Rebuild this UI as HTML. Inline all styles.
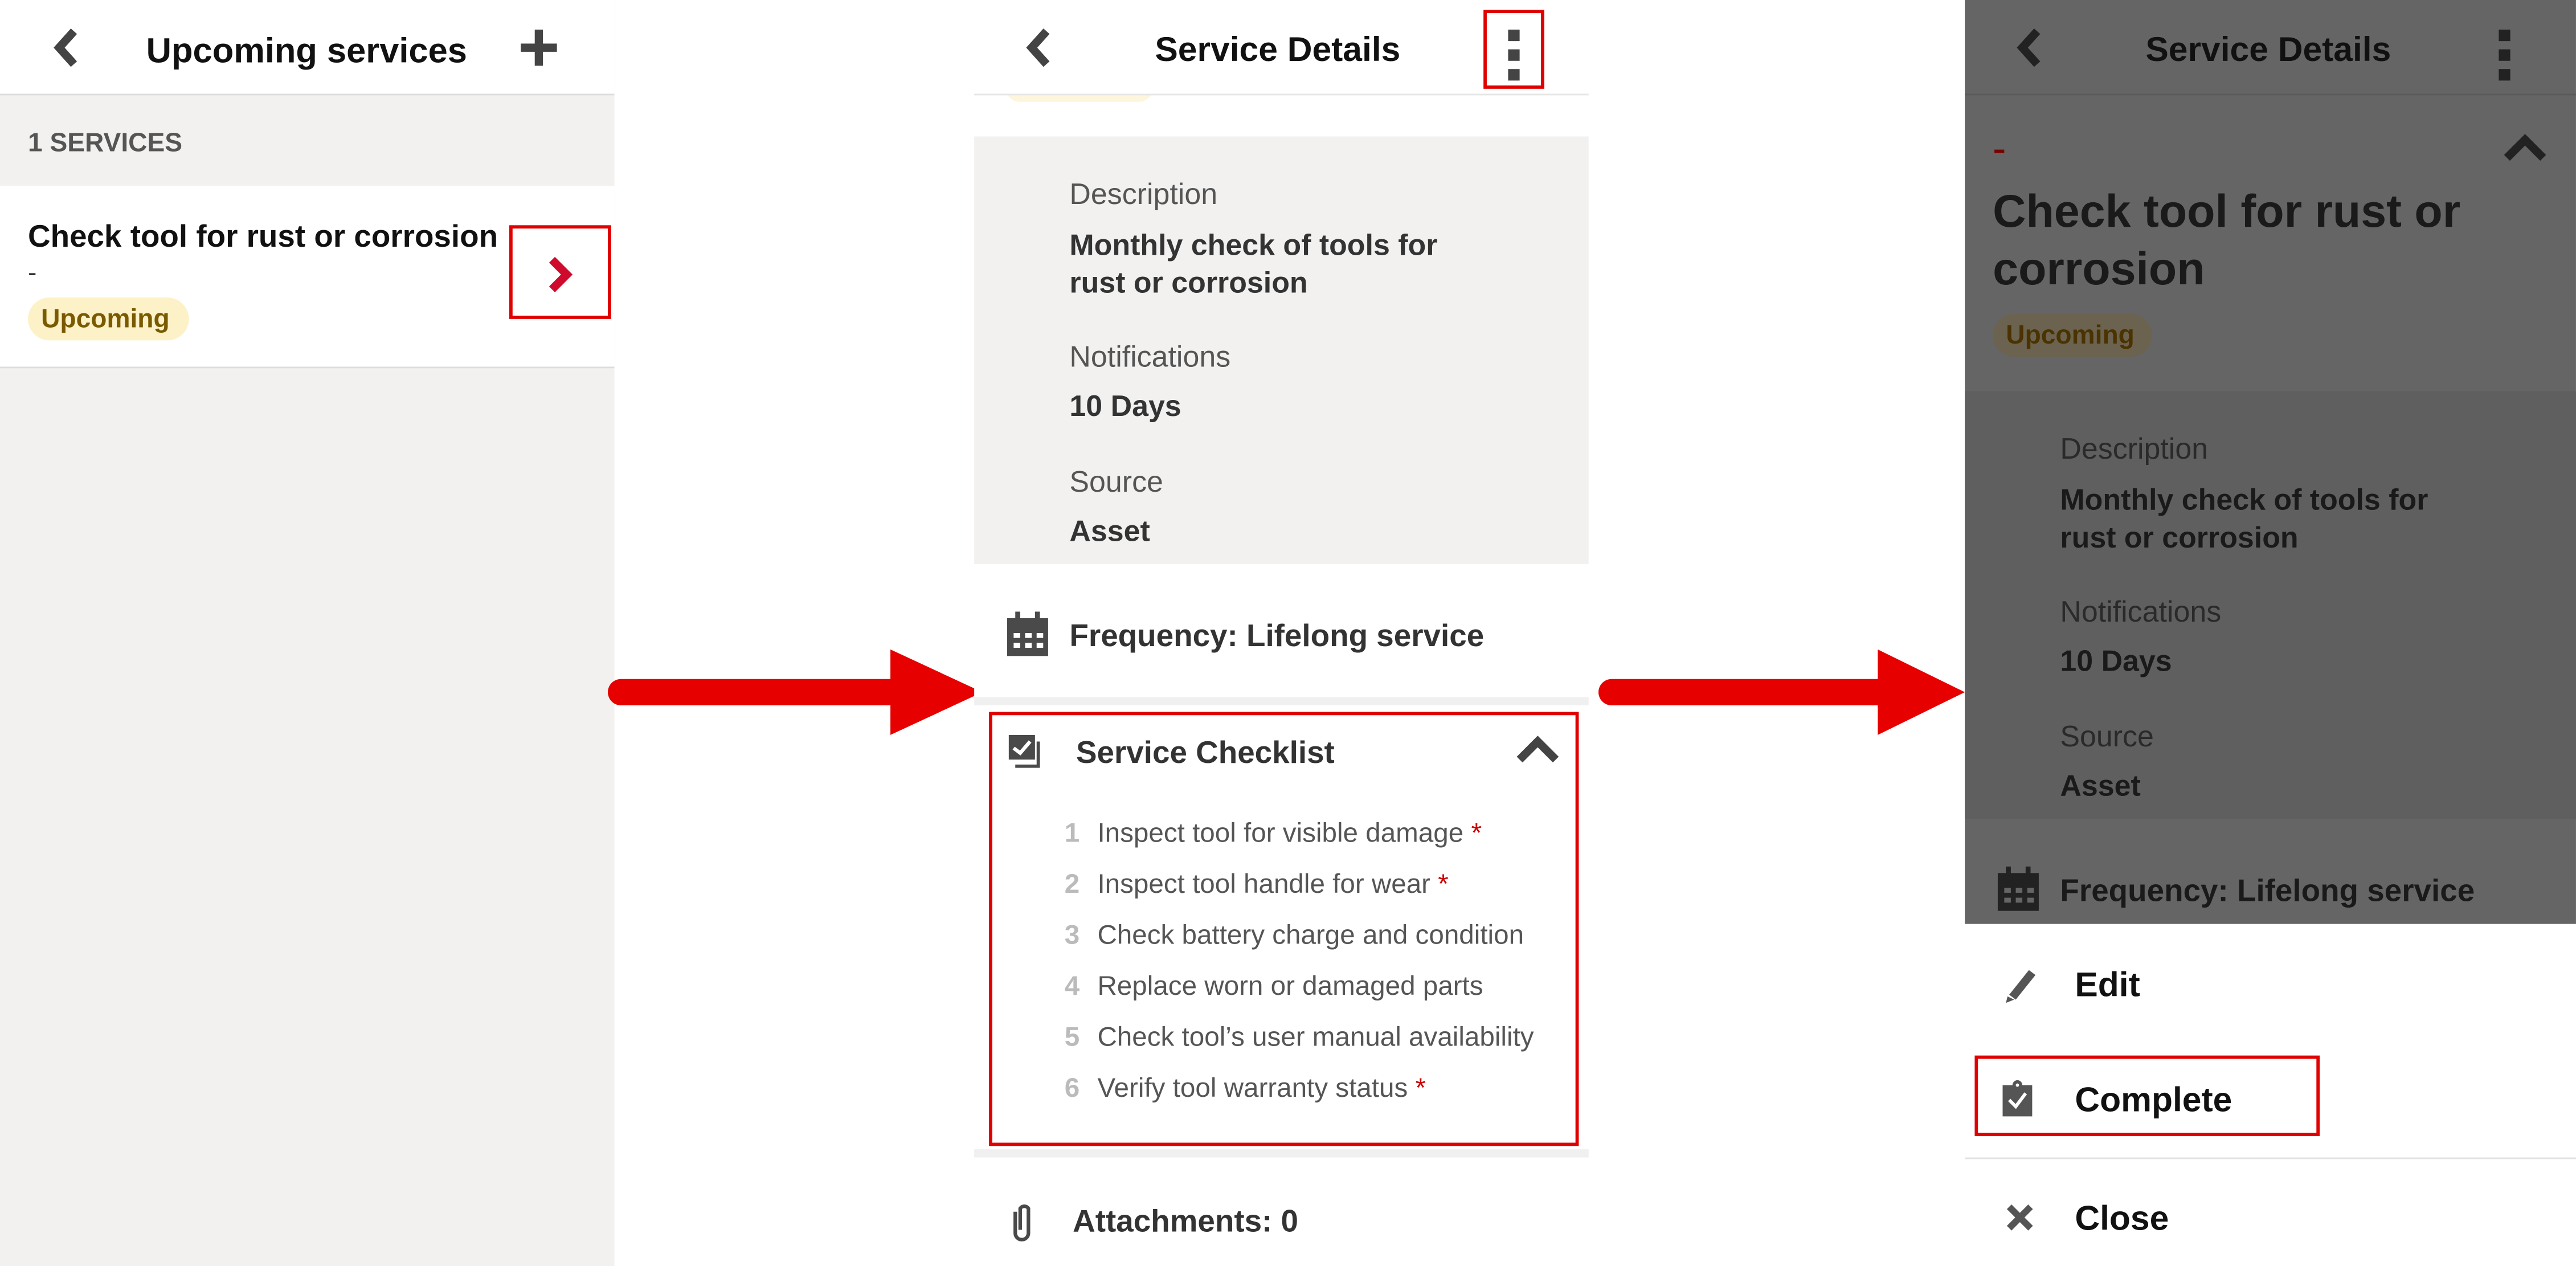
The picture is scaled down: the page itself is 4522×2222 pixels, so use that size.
<!DOCTYPE html>
<html><head><meta charset="utf-8"><style>
html,body{margin:0;padding:0;width:4522px;height:2222px;overflow:hidden;background:#fff}
#s{position:absolute;left:0;top:0;width:1568px;height:770px;transform:scale(2.8839,2.8857);transform-origin:0 0;font-family:"Liberation Sans",Arial,sans-serif}
.a{position:absolute}
.t{position:absolute;white-space:nowrap}
.b{font-weight:bold}
.rb{position:absolute;border:2px solid #e00000;box-sizing:border-box}
</style></head><body><div id="s">
<!-- LEFT PANEL -->
<div class="a" style="left:0;top:0;width:374px;height:770px;background:#f2f1f0"></div>
<div class="a" style="left:0;top:0;width:374px;height:57px;background:#fff;border-bottom:1px solid #ddd"></div>
<svg class="a" style="left:28px;top:16px" width="24" height="26"><path d="M17 3 L8 13 L17 23" stroke="#444" stroke-width="5" fill="none"/></svg>
<div class="t b" style="left:89px;top:19px;font-size:21.3px;color:#111">Upcoming services</div>
<svg class="a" style="left:316px;top:17px" width="24" height="24"><rect x="9.5" y="1" width="5" height="22" fill="#444"/><rect x="1" y="9.5" width="22" height="5" fill="#444"/></svg>
<div class="t b" style="left:17px;top:79px;font-size:16px;color:#555">1 SERVICES</div>
<div class="a" style="left:0;top:113px;width:374px;height:110px;background:#fff;border-bottom:1px solid #ddd"></div>
<div class="t b" style="left:17px;top:134px;font-size:19px;color:#111">Check tool for rust or corrosion</div>
<div class="t" style="left:17px;top:158px;font-size:16px;color:#333">-</div>
<div class="a" style="left:17px;top:181px;width:98px;height:26px;border-radius:13px;background:#fdf1c7"></div>
<div class="t b" style="left:25px;top:186px;font-size:16px;color:#7a5a00">Upcoming</div>
<div class="rb" style="left:310px;top:137px;width:62px;height:57px"></div>
<svg class="a" style="left:332px;top:155px" width="20" height="24"><path d="M4 3 L13 12 L4 21" stroke="#cf0a2c" stroke-width="5" fill="none"/></svg>

<!-- ARROWS -->
<svg class="a" style="left:0;top:0" width="1568" height="770">
<path d="M378 413 L542 413 L542 395 L598 421 L542 447 L542 429 L378 429 A8 8 0 0 1 378 413Z" fill="#e60000"/>
<path d="M981 413 L1143 413 L1143 395 L1196 421 L1143 447 L1143 429 L981 429 A8 8 0 0 1 981 413Z" fill="#e60000"/>
</svg>

<!-- MIDDLE PANEL -->
<div class="a" style="left:593px;top:0;width:374px;height:770px;background:#fff"></div>
<div class="a" style="left:612px;top:44px;width:90px;height:18px;border-radius:9px;background:#fdf5dc"></div>
<div class="a" style="left:593px;top:0;width:374px;height:57px;background:#fff;border-bottom:1px solid #e6e6e6"></div>
<svg class="a" style="left:620px;top:16px" width="24" height="26"><path d="M17 3 L8 13 L17 23" stroke="#444" stroke-width="5" fill="none"/></svg>
<div class="t b" style="left:703px;top:19px;font-size:21px;color:#111">Service Details</div>
<div class="a" style="left:918px;top:18px;width:7px;height:7px;background:#444"></div>
<div class="a" style="left:918px;top:30px;width:7px;height:7px;background:#444"></div>
<div class="a" style="left:918px;top:42px;width:7px;height:7px;background:#444"></div>
<div class="rb" style="left:903px;top:6px;width:37px;height:48px"></div>
<div class="a" style="left:593px;top:83px;width:374px;height:260px;background:#f2f1f0"></div>
<div class="t" style="left:651px;top:108px;font-size:18px;color:#555">Description</div>
<div class="t b" style="left:651px;top:138px;font-size:18px;color:#333;line-height:23px">Monthly check of tools for<br>rust or corrosion</div>
<div class="t" style="left:651px;top:207px;font-size:18px;color:#555">Notifications</div>
<div class="t b" style="left:651px;top:237px;font-size:18px;color:#333">10 Days</div>
<div class="t" style="left:651px;top:283px;font-size:18px;color:#555">Source</div>
<div class="t b" style="left:651px;top:313px;font-size:18px;color:#333">Asset</div>
<svg class="a" style="left:613px;top:372px" width="26" height="28"><rect x="0" y="4" width="25" height="23" fill="#4a4a4a"/><rect x="5" y="0" width="3" height="5" fill="#4a4a4a"/><rect x="17" y="0" width="3" height="5" fill="#4a4a4a"/><g fill="#fff"><rect x="4" y="13" width="4" height="3"/><rect x="11" y="13" width="4" height="3"/><rect x="18" y="13" width="4" height="3"/><rect x="4" y="19" width="4" height="3"/><rect x="11" y="19" width="4" height="3"/><rect x="18" y="19" width="4" height="3"/></g></svg>
<div class="t b" style="left:651px;top:377px;font-size:19px;color:#333">Frequency: Lifelong service</div>
<div class="a" style="left:593px;top:424px;width:374px;height:5px;background:#f0f0f0"></div>
<div class="rb" style="left:602px;top:433px;width:359px;height:264px"></div>
<svg class="a" style="left:614px;top:447px" width="22" height="22"><rect x="0" y="0" width="16" height="15" fill="#4a4a4a"/><path d="M3 8 L7 11 L13 4" stroke="#fff" stroke-width="2.2" fill="none"/><path d="M18 4 V19 H4" stroke="#4a4a4a" stroke-width="2" fill="none"/></svg>
<div class="t b" style="left:655px;top:448px;font-size:19px;color:#333">Service Checklist</div>
<svg class="a" style="left:922px;top:446px" width="28" height="20"><path d="M3 16 L14 5 L25 16" stroke="#444" stroke-width="5" fill="none"/></svg>
<div class="a" style="left:648px;top:492px;font-size:16.5px;line-height:31px;color:#555">
<div><span style="color:#bbb;font-weight:bold;display:inline-block;width:20px">1</span>Inspect tool for visible damage <span style="color:#c00">*</span></div>
<div><span style="color:#bbb;font-weight:bold;display:inline-block;width:20px">2</span>Inspect tool handle for wear <span style="color:#c00">*</span></div>
<div><span style="color:#bbb;font-weight:bold;display:inline-block;width:20px">3</span>Check battery charge and condition</div>
<div><span style="color:#bbb;font-weight:bold;display:inline-block;width:20px">4</span>Replace worn or damaged parts</div>
<div><span style="color:#bbb;font-weight:bold;display:inline-block;width:20px">5</span>Check tool’s user manual availability</div>
<div><span style="color:#bbb;font-weight:bold;display:inline-block;width:20px">6</span>Verify tool warranty status <span style="color:#c00">*</span></div>
</div>
<div class="a" style="left:593px;top:699px;width:374px;height:5px;background:#f0f0f0"></div>
<svg class="a" style="left:615px;top:731px" width="14" height="24"><path d="M3 6 V19 A4 4 0 0 0 11 19 V4 A3 3 0 0 0 6 4 V17" stroke="#4a4a4a" stroke-width="2.2" fill="none"/></svg>
<div class="t b" style="left:653px;top:733px;font-size:19px;color:#333">Attachments: 0</div>

<!-- RIGHT PANEL -->
<div class="a" style="left:1196px;top:0;width:372px;height:562px;background:#656565"></div>
<div class="a" style="left:1196px;top:57px;width:372px;height:1px;background:#5a5a5a"></div>
<svg class="a" style="left:1223px;top:16px" width="24" height="26"><path d="M17 3 L8 13 L17 23" stroke="#222" stroke-width="5" fill="none"/></svg>
<div class="t b" style="left:1306px;top:19px;font-size:21px;color:#111">Service Details</div>
<div class="a" style="left:1521px;top:18px;width:7px;height:7px;background:#222"></div>
<div class="a" style="left:1521px;top:30px;width:7px;height:7px;background:#222"></div>
<div class="a" style="left:1521px;top:42px;width:7px;height:7px;background:#222"></div>
<div class="a" style="left:1214px;top:91px;width:6px;height:2px;background:#7a0000"></div>
<svg class="a" style="left:1522px;top:78px" width="30" height="22"><path d="M4 18 L15 7 L26 18" stroke="#222" stroke-width="5" fill="none"/></svg>
<div class="t b" style="left:1213px;top:111px;font-size:28px;color:#1a1a1a;line-height:35px">Check tool for rust or<br>corrosion</div>
<div class="a" style="left:1213px;top:191px;width:97px;height:26px;border-radius:13px;background:#6b6350"></div>
<div class="t b" style="left:1221px;top:196px;font-size:16px;color:#4a3300">Upcoming</div>
<div class="a" style="left:1196px;top:238px;width:372px;height:260px;background:#5f5f5f"></div>
<div class="t" style="left:1254px;top:263px;font-size:18px;color:#2a2a2a">Description</div>
<div class="t b" style="left:1254px;top:293px;font-size:18px;color:#1a1a1a;line-height:23px">Monthly check of tools for<br>rust or corrosion</div>
<div class="t" style="left:1254px;top:362px;font-size:18px;color:#2a2a2a">Notifications</div>
<div class="t b" style="left:1254px;top:392px;font-size:18px;color:#1a1a1a">10 Days</div>
<div class="t" style="left:1254px;top:438px;font-size:18px;color:#2a2a2a">Source</div>
<div class="t b" style="left:1254px;top:468px;font-size:18px;color:#1a1a1a">Asset</div>
<svg class="a" style="left:1216px;top:527px" width="26" height="28"><rect x="0" y="4" width="25" height="23" fill="#222"/><rect x="5" y="0" width="3" height="5" fill="#222"/><rect x="17" y="0" width="3" height="5" fill="#222"/><g fill="#656565"><rect x="4" y="13" width="4" height="3"/><rect x="11" y="13" width="4" height="3"/><rect x="18" y="13" width="4" height="3"/><rect x="4" y="19" width="4" height="3"/><rect x="11" y="19" width="4" height="3"/><rect x="18" y="19" width="4" height="3"/></g></svg>
<div class="t b" style="left:1254px;top:532px;font-size:19px;color:#1a1a1a">Frequency: Lifelong service</div>
<div class="a" style="left:1196px;top:562px;width:372px;height:208px;background:#fff"></div>
<svg class="a" style="left:1219px;top:587px" width="22" height="24"><path d="M4 18 L16 3 L20 6 L8 21 Z" fill="#555"/><path d="M3 19 L2 23 L7 21Z" fill="#555"/></svg>
<div class="t b" style="left:1263px;top:588px;font-size:21px;color:#111">Edit</div>
<div class="rb" style="left:1202px;top:642px;width:210px;height:49px"></div>
<svg class="a" style="left:1219px;top:656px" width="22" height="26"><rect x="0" y="4" width="18" height="19" fill="#555"/><circle cx="9" cy="4" r="3" fill="#555"/><circle cx="9" cy="4" r="1" fill="#fff"/><path d="M4 13 L8 17 L14 9" stroke="#fff" stroke-width="2" fill="none"/></svg>
<div class="t b" style="left:1263px;top:658px;font-size:21px;color:#111">Complete</div>
<div class="a" style="left:1196px;top:704px;width:372px;height:1px;background:#e2e2e2"></div>
<svg class="a" style="left:1220px;top:731px" width="20" height="20"><path d="M3 3 L16 16 M16 3 L3 16" stroke="#555" stroke-width="4"/></svg>
<div class="t b" style="left:1263px;top:730px;font-size:21px;color:#111">Close</div>
</div></body></html>
